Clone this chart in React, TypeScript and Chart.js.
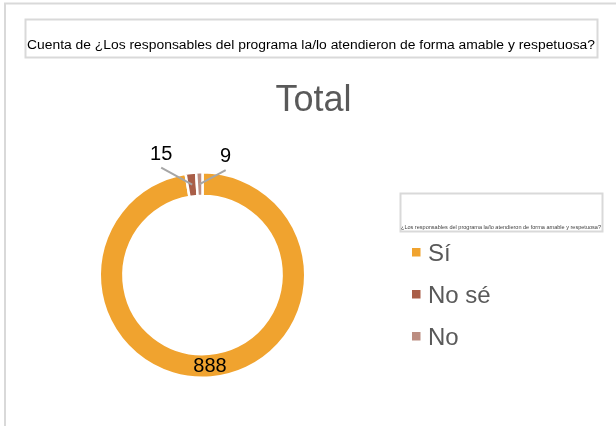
import React, { useEffect, useRef } from "react";
import { Chart, registerables } from "chart.js";

Chart.register(...registerables);

const categories = ["Sí", "No sé", "No"];
const values = [888, 15, 9];
const colors = ["#F0A32F", "#A95E48", "#BC8D81"];
const chartTitle =
  "Cuenta de ¿Los responsables del programa la/lo atendieron de forma amable y respetuosa?";
const seriesName = "Total";
const legendTitle =
  "¿Los responsables del programa la/lo atendieron de forma amable y respetuosa?";

const FONT = "'Liberation Sans', Arial, sans-serif";
// label placement: null = inside ring, otherwise offset of leader line end from arc
const labelOffsets: ({ dx: number; dy: number } | null)[] = [
  null,
  { dx: -31, dy: -17 },
  { dx: 26, dy: -14 },
];

function fitText(ctx: any, text: string, x: number, y: number, width: number) {
  const w = ctx.measureText(text).width;
  ctx.save();
  ctx.translate(x, y);
  ctx.scale(width / w, 1);
  ctx.fillText(text, 0, 0);
  ctx.restore();
}

const decorPlugin = {
  id: "decor",
  beforeDraw(chart: any) {
    const ctx = chart.ctx;
    ctx.save();
    ctx.fillStyle = "#ffffff";
    ctx.fillRect(0, 0, chart.width, chart.height);
    // outer frame
    ctx.strokeStyle = "#D9D9D9";
    ctx.lineWidth = 2;
    ctx.beginPath();
    ctx.moveTo(5, chart.height);
    ctx.lineTo(5, 3.5);
    ctx.lineTo(chart.width, 3.5);
    ctx.stroke();
    // title box
    ctx.strokeRect(25.5, 19.5, 572, 38);
    ctx.fillStyle = "#000000";
    ctx.font = `12.5px ${FONT}`;
    ctx.textBaseline = "alphabetic";
    ctx.textAlign = "left";
    fitText(ctx, chartTitle, 27, 48.5, 568);
    // series title
    ctx.fillStyle = "#595959";
    ctx.font = `36px ${FONT}`;
    ctx.textAlign = "center";
    ctx.fillText(seriesName, 313.5, 111);
    // legend box
    ctx.strokeStyle = "#D9D9D9";
    ctx.strokeRect(400.5, 193.5, 202, 38);
    ctx.fillStyle = "#404040";
    ctx.font = `5.3px ${FONT}`;
    ctx.textAlign = "left";
    fitText(ctx, legendTitle, 401, 229, 200);
    // legend items
    categories.forEach((c, i) => {
      const base = 261 + i * 42;
      ctx.fillStyle = colors[i];
      ctx.fillRect(412, base - 13, 8.5, 8.5);
      ctx.fillStyle = "#595959";
      ctx.font = `24px ${FONT}`;
      ctx.fillText(c, 428, base);
    });
    ctx.restore();
  },
  afterDraw(chart: any) {
    const ctx = chart.ctx;
    const meta = chart.getDatasetMeta(0);
    ctx.save();
    meta.data.forEach((arc: any, i: number) => {
      const p = arc.getProps(["x", "y", "startAngle", "endAngle", "innerRadius", "outerRadius"], true);
      const mid = (p.startAngle + p.endAngle) / 2;
      const r = (p.innerRadius + p.outerRadius) / 2;
      const ax = p.x + Math.cos(mid) * r;
      const ay = p.y + Math.sin(mid) * r;
      const off = labelOffsets[i];
      ctx.font = `20px ${FONT}`;
      ctx.fillStyle = "#000000";
      ctx.textAlign = "center";
      if (!off) {
        ctx.textBaseline = "middle";
        ctx.fillText(String(values[i]), ax, ay + 1);
      } else {
        ctx.strokeStyle = "#A6A6A6";
        ctx.lineWidth = 2;
        ctx.beginPath();
        ctx.moveTo(ax, ay);
        ctx.lineTo(ax + off.dx, ay + off.dy);
        ctx.stroke();
        ctx.textBaseline = "alphabetic";
        ctx.fillText(String(values[i]), ax + off.dx, ay + off.dy - 8);
      }
    });
    ctx.restore();
  },
};

export default function App() {
  const ref = useRef<HTMLCanvasElement | null>(null);
  useEffect(() => {
    if (!ref.current) return;
    const chart = new Chart(ref.current, {
      type: "doughnut",
      data: {
        labels: categories,
        datasets: [
          {
            label: seriesName,
            data: values,
            backgroundColor: colors,
            borderColor: "#ffffff",
            borderWidth: 2.5,
          },
        ],
      },
      options: {
        responsive: false,
        animation: false,
        devicePixelRatio: 1,
        cutout: "77%",
        layout: { padding: { left: 98.5, right: 309.5, top: 171, bottom: 47 } },
        plugins: {
          legend: { display: false },
          tooltip: { enabled: false },
          title: { display: false },
        },
      },
      plugins: [decorPlugin],
    });
    return () => chart.destroy();
  }, []);
  return (
    <div style={{ position: "absolute", left: 0, top: 0, width: 616, height: 426 }}>
      <canvas ref={ref} width={616} height={426} style={{ width: 616, height: 426 }} />
    </div>
  );
}
